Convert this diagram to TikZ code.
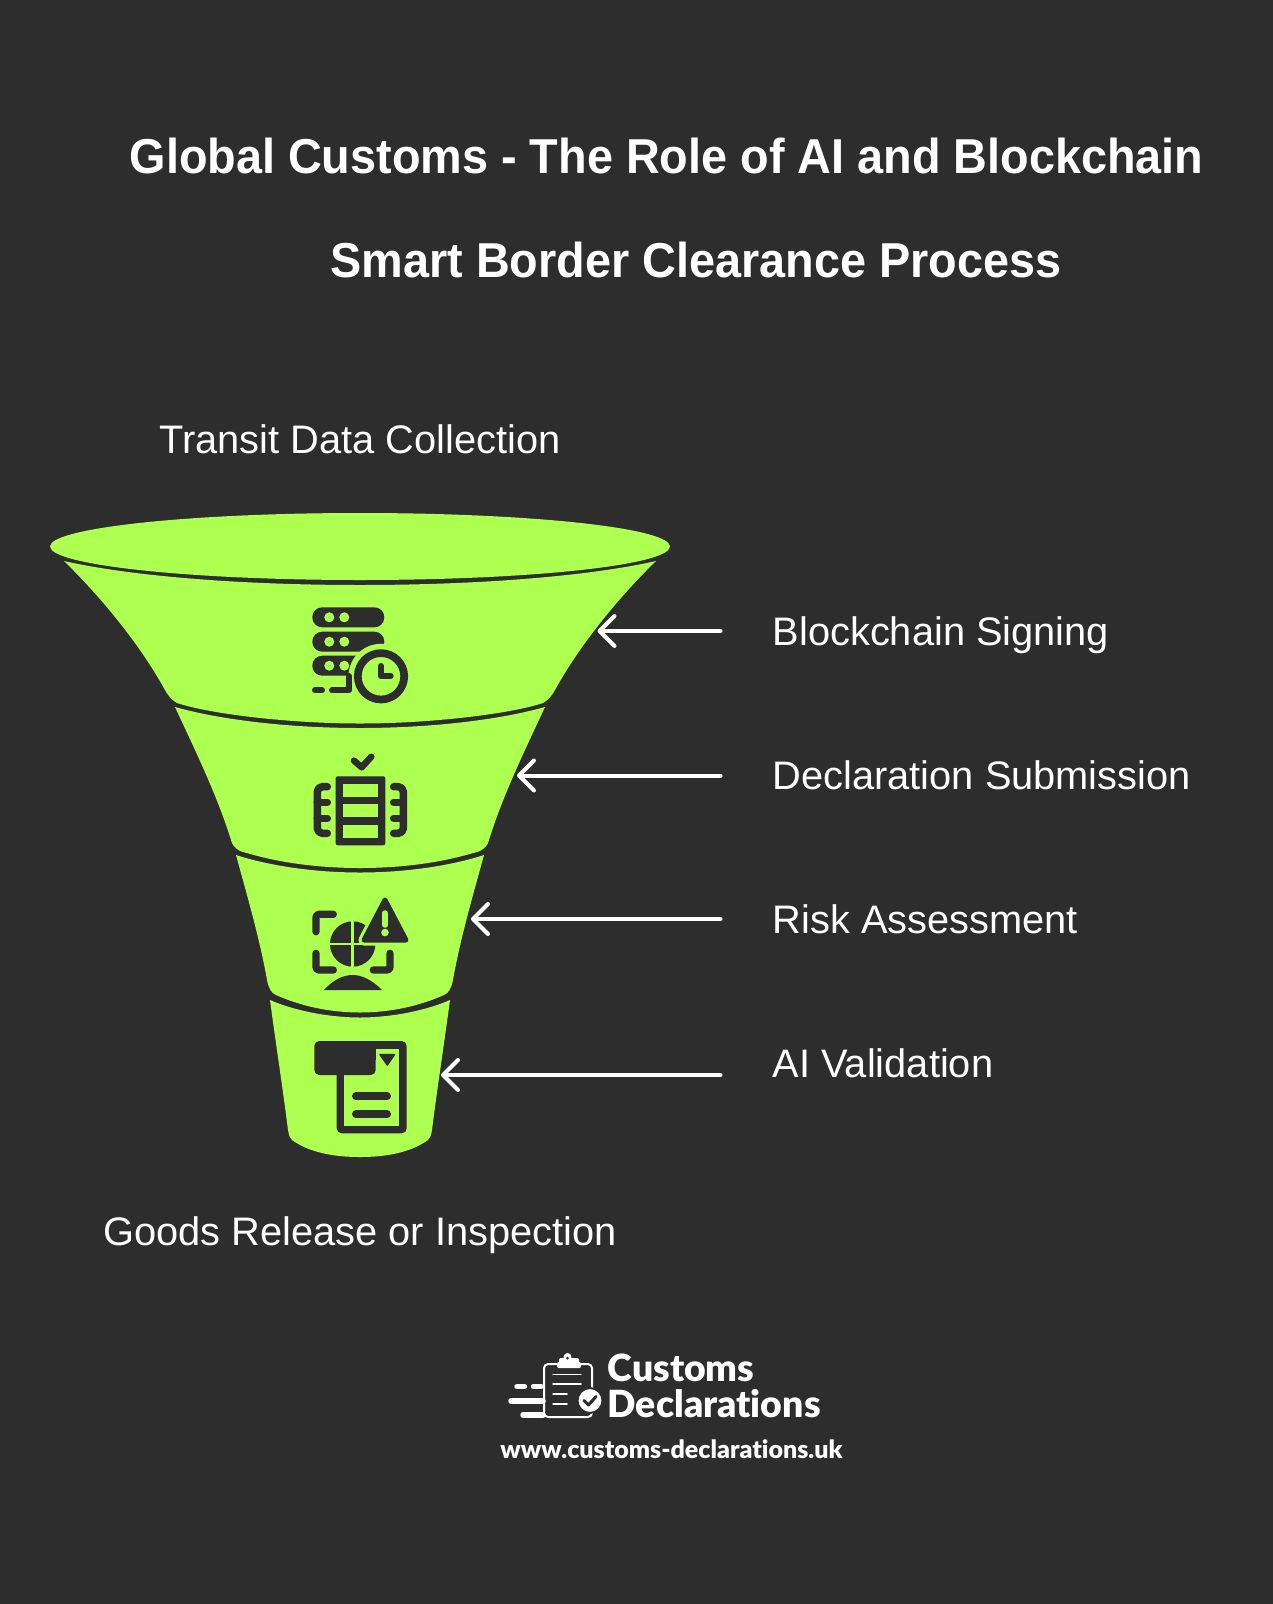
\documentclass[tikz,border=0pt]{standalone}
\usepackage{fontspec}
\setmainfont{Liberation Sans}
\newfontfamily\titlefont[FakeStretch=0.955]{Liberation Sans}
\newfontfamily\logofont[BoldFont=Lato Black,Ligatures=NoCommon]{Lato}
\usetikzlibrary{arrows.meta}
\definecolor{bgdark}{HTML}{2D2D2D}
\definecolor{funnelgreen}{HTML}{ADFF50}
\tikzset{
	titletext/.style={text=white,font=\titlefont\fontsize{49}{58}\bfseries\selectfont,inner sep=0pt},
	steptext/.style={text=white,font=\fontsize{39.8}{47}\selectfont,inner sep=0pt},
	logotext/.style={text=white,font=\logofont\fontsize{37.4}{40}\bfseries\selectfont,inner sep=0pt,anchor=base west},
	band/.style={fill=funnelgreen},
	pointer/.style={draw=white,line width=4pt,line cap=round,{Straight Barb[length=15pt,width=30pt,round]}-},
	iconfill/.style={fill=bgdark},
	iconline/.style={draw=bgdark,line cap=round,line join=round},
	logoline/.style={draw=white,line cap=round,line join=round},
}
\begin{document}
\begin{tikzpicture}[x=1pt,y=-1pt]
	\useasboundingbox[fill=bgdark] (0,0) rectangle (1273,1604);
	\node[titletext] (title1) at (666.5,155.5) {Global Customs - The Role of AI and Blockchain};
	\node[titletext] (title2) at (696,259.5) {Smart Border Clearance Process};
	\node[steptext,anchor=base] (topText) at (360,453) {Transit Data Collection};
	\node[steptext,anchor=base] (bottomText) at (360,1245.5) {Goods Release or Inspection};
	% funnel
	\fill[band] (360,546.5) ellipse [x radius=310,y radius=33.5];
	\fill[band] (64,561) .. controls (130,576) and (240,585) .. (360,585) .. controls (480,585) and (590,576) .. (656,561)
		.. controls (613,603) and (577,650) .. (555,690) .. controls (551,697) and (548,700) .. (543,703)
		.. controls (510,714) and (430,723.5) .. (360,723.5) .. controls (290,723.5) and (210,714) .. (177,703)
		.. controls (172,700) and (169,697) .. (165,690) .. controls (143,650) and (107,603) .. (64,561) -- cycle;
	\fill[band] (175,707) .. controls (225,721) and (295,728) .. (360,728) .. controls (425,728) and (495,721) .. (545,707)
		.. controls (525,750) and (503,795) .. (489,840) .. controls (488,845) and (485,848) .. (480,851)
		.. controls (445,862) and (405,868) .. (360,868) .. controls (315,868) and (275,862) .. (240,851)
		.. controls (235,848) and (232,845) .. (231,840) .. controls (217,795) and (195,750) .. (175,707) -- cycle;
	\fill[band] (236,855) .. controls (270,866) and (315,872.5) .. (360,872.5) .. controls (405,872.5) and (450,866) .. (484,855)
		.. controls (473,895) and (460,940) .. (453,980) .. controls (451,989) and (449,992) .. (445,994.5)
		.. controls (420,1006) and (390,1012.5) .. (360,1012.5) .. controls (330,1012.5) and (300,1006) .. (275,994.5)
		.. controls (271,992) and (269,989) .. (267,980) .. controls (260,940) and (247,895) .. (236,855) -- cycle;
	\fill[band] (270,1000) .. controls (295,1011) and (330,1017.5) .. (360,1017.5) .. controls (390,1017.5) and (425,1011) .. (450,1000)
		.. controls (444,1045) and (437,1090) .. (432,1130) .. controls (431,1136) and (430,1138) .. (428,1140)
		.. controls (410,1153) and (385,1157) .. (360,1157) .. controls (335,1157) and (310,1153) .. (292,1140)
		.. controls (290,1138) and (289,1136) .. (288,1130) .. controls (283,1090) and (276,1045) .. (270,1000) -- cycle;
	% arrows and their labels
	\foreach \name/\tipx/\tipy/\texty/\txt in {sign/597.5/631/645/Blockchain Signing,submit/517/775.5/789/Declaration Submission,risk/471/919/933/Risk Assessment,valid/441/1075/1077.5/AI Validation}{
		\coordinate (\name Tip) at (\tipx,\tipy);
		\coordinate (\name Tail) at (720.5,\tipy);
		\draw[pointer] (\name Tip) -- (\name Tail);
		\node[steptext,anchor=base west] (\name Text) at (772.5,\texty) {\txt};
	}
	% server and clock icon
	\foreach \y in {617.3,641.7,665.7}{
		\fill[iconfill,rounded corners=9.9pt] (312.3,\y-10) rectangle (384.3,\y+10);
		\fill[funnelgreen] (329.3,\y) circle (5) (344.3,\y) circle (5);
	}
	\fill[funnelgreen] (381,676.3) circle (32.5);
	\draw[iconline,line width=6pt] (322,690.3)--(315,690.3);
	\draw[iconline,line width=6pt] (332,690.3)--(349,690.3)--(349,676);
	\draw[iconline,line width=7.7pt] (381,676.3) circle (23.2);
	\draw[iconline,line width=6pt] (381,666)--(381,676)--(390.7,676);
	% checklist icon
	\draw[iconline,line width=6.5pt] (354,760.7)--(361.7,767.3)--(371.3,756.7);
	\fill[iconfill,rounded corners=2pt] (335.7,776.3) rectangle (385.3,845.3);
	\foreach \y/\yy in {784/796.7,804.3/817.3,825/837.7}
		\fill[funnelgreen] (343.3,\y) rectangle (377.7,\yy);
	\foreach \x/\xx in {317.3/327.3,403.3/393.7}{
		\draw[iconline,line width=7.5pt,rounded corners=5pt] (\xx,786.7)--(\x,786.7)--(\x,833.3)--(\xx,833.3);
		\draw[iconline,line width=7.5pt] (\x,802.3)--(\xx,802.3) (\x,818.3)--(\xx,818.3);
	}
	% globe and warning icon
	\fill[iconfill] (352.7,944) circle (22.7);
	\draw[funnelgreen,line width=2.5pt] (352.7,920)--(352.7,968) (329,944)--(376,944);
	\draw[funnelgreen,line width=11pt,line join=round,fill=funnelgreen] (385,900)--(364,940)--(406,940)--cycle;
	\draw[iconline,fill=bgdark,line width=5pt] (385,900)--(364,940)--(406,940)--cycle;
	\draw[funnelgreen,line width=5.5pt,line cap=round] (385,913)--(385,925);
	\fill[funnelgreen] (385,932.5) circle (3.8);
	\foreach \a/\b/\c/\d/\e/\f in {316/931.7/316/914.3/333.3/914.3,316/953.3/316/970/333.3/970,390/953.3/390/970/373.3/970}
		\draw[iconline,line width=7.3pt,rounded corners=3pt] (\a,\b)--(\c,\d)--(\e,\f);
	\fill[iconfill] (324,990) .. controls (333,980) and (343,975) .. (352.7,975) .. controls (362,975) and (372,980) .. (382,990) -- cycle;
	% document icon
	\fill[iconfill,rounded corners=5pt] (336.7,1041) rectangle (406.7,1133.3);
	\fill[funnelgreen] (344,1049) rectangle (399.3,1125.7);
	\fill[iconfill,rounded corners=5pt] (314.3,1041) rectangle (375.7,1075);
	\fill[iconfill] (343,1060) rectangle (375.7,1049);
	\draw[iconline,fill=bgdark,line width=1.5pt] (380,1054.5)--(394.5,1054.5)--(387.3,1065)--cycle;
	\draw[iconline,line width=8pt] (356,1096.3)--(387,1096.3) (356,1114.3)--(387,1114.3);
	% logo
	\node[logotext] (logoTop) at (607.5,1381) {Customs};
	\node[logotext] (logoBottom) at (607.5,1417) {Declarations};
	\node[anchor=base,inner sep=0pt,text=white,font=\logofont\fontsize{25}{28}\bfseries\selectfont] (logoUrl) at (671.5,1458) {www.customs-declarations.uk};
	\draw[logoline,line width=2pt,rounded corners=4pt] (557,1364)--(544,1364)--(544,1417)--(592,1417)--(592,1364)--(578,1364);
	\fill[white,rounded corners=2pt] (557,1362) rectangle (581,1368) (559,1358) rectangle (579,1364);
	\fill[white] (567.5,1357) circle (4);
	\fill[bgdark] (567.5,1358) circle (1.5);
	\draw[logoline,line width=1.5pt] (553,1374.5)--(581,1374.5) (553,1384)--(581,1384) (553,1394)--(567,1394) (553,1404)--(567,1404);
	\draw[logoline,line width=5.5pt] (517,1386.5)--(524.5,1386.5) (533.5,1386.5)--(541,1386.5) (511,1401)--(543,1401) (523,1415)--(543,1415);
	\draw[bgdark,line width=2pt,fill=white] (590,1400.5) circle (12.5);
	\draw[bgdark,line width=3pt,line cap=round,line join=round] (584,1400.5)--(588.5,1405)--(596,1396.5);
\end{tikzpicture}
\end{document}
